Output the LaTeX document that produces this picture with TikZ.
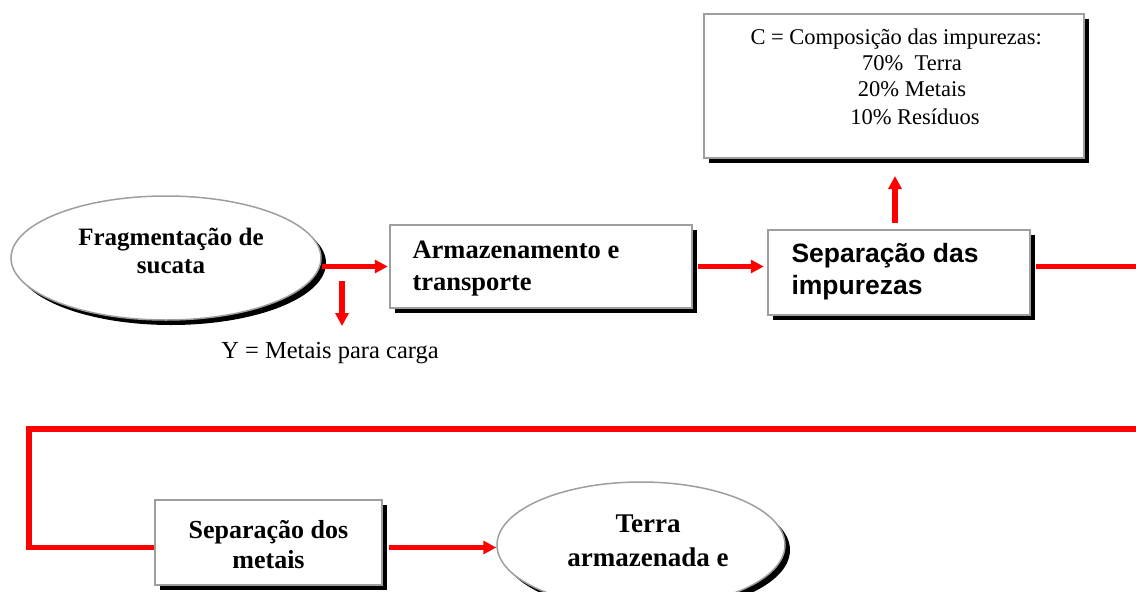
\documentclass[tikz,border=0pt]{standalone}
\usepackage{fontspec}
\setmainfont{Liberation Serif}
\newfontfamily\arialbf{Liberation Sans}
\usetikzlibrary{arrows.meta,shadows,shapes.geometric}
\begin{document}
\begin{tikzpicture}[x=1pt,y=-1pt,
  shade box/.style={draw=black!38,fill=white,
    drop shadow={shadow xshift=5pt,shadow yshift=-5pt,fill=black,opacity=1}},
  procbox/.style={shade box,line width=2.5pt,rectangle,inner sep=0pt},
  procell/.style={shade box,line width=1.5pt,ellipse,inner sep=0pt},
  flow/.style={draw=red,line width=5.5pt},
  flowarrow/.style={flow,-{Triangle[length=13pt,width=13pt]}},
  serifbf/.style={font=\fontsize{25}{28}\selectfont\bfseries,align=center},
]
\useasboundingbox (0,0) rectangle (1136,592);

% composition box
\node[procbox,minimum width=380pt,minimum height=144pt] (comp) at (894,86) {};
\node[font=\fontsize{22.5}{26}\selectfont,anchor=base west] (ct) at (747,44) {C = Composição das impurezas:};
\node[font=\fontsize{22.5}{26}\selectfont,anchor=base] (c1) at (912,70) {70\%\ \ Terra};
\node[font=\fontsize{22.5}{26}\selectfont,anchor=base] (c2) at (912,96) {20\% Metais};
\node[font=\fontsize{22.5}{26}\selectfont,anchor=base] (c3) at (915,124) {10\% Resíduos};

% first row
\node[procell,minimum width=310pt,minimum height=124pt] (frag) at (166,258) {};
\node[serifbf] (fragt) at (171,251) {Fragmentação de\\sucata};

\node[procbox,minimum width=302pt,minimum height=83pt] (arm) at (541,266.5) {};
\node[font=\fontsize{26.5}{32}\selectfont\bfseries,align=left,anchor=west] (armt) at (409,269) {Armazenamento e\\transporte};

\node[procbox,minimum width=262pt,minimum height=85pt] (sepi) at (899,272.5) {};
\node[font=\arialbf\fontsize{26.5}{32}\selectfont\bfseries,align=left,anchor=west] (sepit) at (788,272) {Separação das\\impurezas};

\node[font=\fontsize{24.5}{28}\selectfont,anchor=base] (ylab) at (330,358) {Y = Metais para carga};

% second row
\node[procbox,minimum width=227pt,minimum height=85pt] (sepm) at (268.5,542.5) {};
\node[font=\fontsize{26}{30}\selectfont\bfseries,align=center] (sepmt) at (268.5,545) {Separação dos\\metais};

\node[procell,minimum width=288pt,minimum height=126pt] (terra) at (641,545) {};
\node[font=\fontsize{27}{34}\selectfont\bfseries,align=center] (terrat) at (648,541) {Terra\\armazenada e};

% connectors
\coordinate (yfrom) at (342,281);
\coordinate (yto) at (342,326);
\coordinate (upfrom) at (895,223);
\coordinate (upto) at (895,176);
\coordinate (rightout) at (1136,266.5);
\coordinate (backin) at (1136,429);
\coordinate (corner) at (29,429);

\draw[flowarrow] (frag.east |- arm.west) -- ([xshift=-1pt]arm.west);
\draw[flowarrow] (yfrom) -- (yto);
\draw[flowarrow] ([xshift=5pt]arm.east) -- ([xshift=-3pt]arm.east -| sepi.west);
\draw[flowarrow] (upfrom) -- (upto);
\draw[flow] ([xshift=5pt]sepi.east |- rightout) -- (rightout);
\draw[flow] (backin) -- (corner) |- ([yshift=-5pt]sepm.west);
\draw[flowarrow] ([xshift=6pt,yshift=-5pt]sepm.east) -- ([yshift=-5pt]sepm.east -| terra.west);
\end{tikzpicture}
\end{document}
